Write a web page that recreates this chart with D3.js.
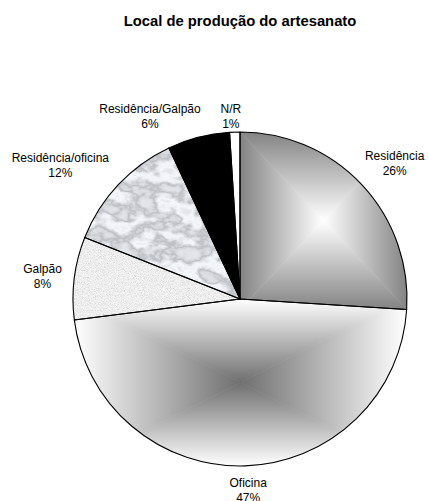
<!DOCTYPE html>
<html>
<head>
<meta charset="utf-8">
<script src="https://cdn.jsdelivr.net/npm/d3@7/dist/d3.min.js"></script>
<style>
  html, body { margin: 0; padding: 0; background: #fff; }
  svg { display: block; font-family: "Liberation Sans", Arial, sans-serif; }
</style>
</head>
<body>
<div id="chart"></div>
<script>
// Data
const categories = ["Residência", "Oficina", "Galpão", "Residência/oficina", "Residência/Galpão", "N/R"];
const values = [26, 47, 8, 12, 6, 1];
const valueLabels = ["26%", "47%", "8%", "12%", "6%", "1%"];
const title = "Local de produção do artesanato";

// Layout
const W = 429, H = 501;
const cx = 240, cy = 299, R = 167;
const labelRadius = R * 1.18;
// small per-label shifts away from the default polar position (avoid overlaps)
const labelNudge = [[11, -1], [2, -5], [-2, 2], [-36, 1], [-41, 8], [-3, 14]];

const svg = d3.select("#chart").append("svg")
  .attr("width", W).attr("height", H);
svg.append("rect").attr("width", W).attr("height", H).attr("fill", "#fff");

const defs = svg.append("defs");

function noiseFilter(id, type, freq, octaves, seed, tables, blur) {
  const f = defs.append("filter").attr("id", id)
    .attr("filterUnits", "userSpaceOnUse").attr("x", 0).attr("y", 0)
    .attr("width", W).attr("height", H)
    .attr("color-interpolation-filters", "sRGB");
  f.append("feTurbulence").attr("type", type).attr("baseFrequency", freq)
    .attr("numOctaves", octaves).attr("seed", seed);
  f.append("feColorMatrix").attr("type", "matrix")
    .attr("values", "1 0 0 0 0  1 0 0 0 0  1 0 0 0 0  0 0 0 0 1");
  const ct = f.append("feComponentTransfer");
  ct.append("feFuncR").attr("type", "table").attr("tableValues", tables[0]);
  ct.append("feFuncG").attr("type", "table").attr("tableValues", tables[1]);
  ct.append("feFuncB").attr("type", "table").attr("tableValues", tables[2]);
  if (blur) f.append("feGaussianBlur").attr("stdDeviation", blur);
}

// Granite speckle
const graniteT = "0.68 0.82 0.89 0.935 0.965 0.985 1";
noiseFilter("granite", "fractalNoise", 1.15, 2, 7, [graniteT, graniteT, graniteT], 0);

// Marble: light ground with thin grey veins (slightly cool tint)
const marbleBase = [0.89, 0.89, 0.89, 0.89, 0.88, 0.86, 0.82, 0.74, 0.82, 0.89, 0.94, 0.96, 0.92, 0.89, 0.89, 0.89, 0.89];
noiseFilter("marble", "fractalNoise", "0.045 0.065", 4, 11, [
  marbleBase.join(" "),
  marbleBase.map(v => Math.min(1, v + 0.01)).join(" "),
  marbleBase.map(v => Math.min(1, v + 0.025)).join(" ")
], 0.7);

// Pie geometry
const pie = d3.pie().sort(null).value(d => d)(values);
const arc = d3.arc().innerRadius(0).outerRadius(R);

const g = svg.append("g").attr("transform", `translate(${cx},${cy})`);

// Rectangular "from centre" gradient built from four triangles meeting at the bbox centre
function boxGradient(sel, id, bb, edge, centre) {
  const x0 = bb.x, y0 = bb.y, x1 = bb.x + bb.width, y1 = bb.y + bb.height;
  const mx = (x0 + x1) / 2, my = (y0 + y1) / 2;
  const parts = [
    { pts: [[x0, y0], [x1, y0], [mx, my]], from: [mx, y0] },
    { pts: [[x1, y0], [x1, y1], [mx, my]], from: [x1, my] },
    { pts: [[x1, y1], [x0, y1], [mx, my]], from: [mx, y1] },
    { pts: [[x0, y1], [x0, y0], [mx, my]], from: [x0, my] }
  ];
  parts.forEach((p, i) => {
    const gid = `${id}-g${i}`;
    const lg = defs.append("linearGradient").attr("id", gid)
      .attr("gradientUnits", "userSpaceOnUse")
      .attr("x1", p.from[0]).attr("y1", p.from[1]).attr("x2", mx).attr("y2", my);
    lg.append("stop").attr("offset", 0).attr("stop-color", edge);
    lg.append("stop").attr("offset", 1).attr("stop-color", centre);
    sel.append("polygon")
      .attr("points", p.pts.map(q => q.join(",")).join(" "))
      .attr("fill", `url(#${gid})`)
      .attr("stroke", `url(#${gid})`).attr("stroke-width", 0.6);
  });
}

const fills = [
  { kind: "box", edge: "#838383", centre: "#ffffff" },
  { kind: "box", edge: "#ffffff", centre: "#6f6f6f" },
  { kind: "filter", id: "granite" },
  { kind: "filter", id: "marble" },
  { kind: "solid", color: "#000000" },
  { kind: "solid", color: "#ffffff" }
];

pie.forEach((d, i) => {
  const pathD = arc(d);
  const f = fills[i];
  const clipId = `clip-${i}`;
  defs.append("clipPath").attr("id", clipId)
    .attr("transform", `translate(${cx},${cy})`)
    .append("path").attr("d", pathD);

  if (f.kind === "solid") {
    g.append("path").attr("d", pathD).attr("fill", f.color);
  } else {
    // measure the slice in page coordinates
    const tmp = svg.append("path").attr("d", pathD).attr("transform", `translate(${cx},${cy})`);
    const b = tmp.node().getBBox();
    tmp.remove();
    const bb = { x: b.x + cx, y: b.y + cy, width: b.width, height: b.height };
    const holder = svg.insert("g", () => g.node()).attr("clip-path", `url(#${clipId})`);
    if (f.kind === "box") {
      boxGradient(holder, `box-${i}`, bb, f.edge, f.centre);
    } else {
      holder.append("rect").attr("x", bb.x - 2).attr("y", bb.y - 2)
        .attr("width", bb.width + 4).attr("height", bb.height + 4)
        .attr("filter", `url(#${f.id})`);
    }
  }
});

// Slice outlines
g.selectAll("path.outline").data(pie).join("path")
  .attr("class", "outline")
  .attr("d", arc)
  .attr("fill", "none")
  .attr("stroke", "#000")
  .attr("stroke-width", 1.1)
  .attr("stroke-linejoin", "round");

// Labels
pie.forEach((d, i) => {
  const a = (d.startAngle + d.endAngle) / 2;
  const x = cx + labelRadius * Math.sin(a) + labelNudge[i][0];
  const y = cy - labelRadius * Math.cos(a) + labelNudge[i][1];
  const t = svg.append("text").attr("text-anchor", "middle")
    .attr("font-size", 12).attr("fill", "#000");
  t.append("tspan").attr("x", x).attr("y", y - 3.5).text(categories[i]);
  t.append("tspan").attr("x", x).attr("y", y + 11.5).text(valueLabels[i]);
});

// Title
svg.append("text")
  .attr("x", 240).attr("y", 25.5)
  .attr("text-anchor", "middle")
  .attr("font-size", 14.8).attr("font-weight", "bold")
  .text(title);
</script>
</body>
</html>
